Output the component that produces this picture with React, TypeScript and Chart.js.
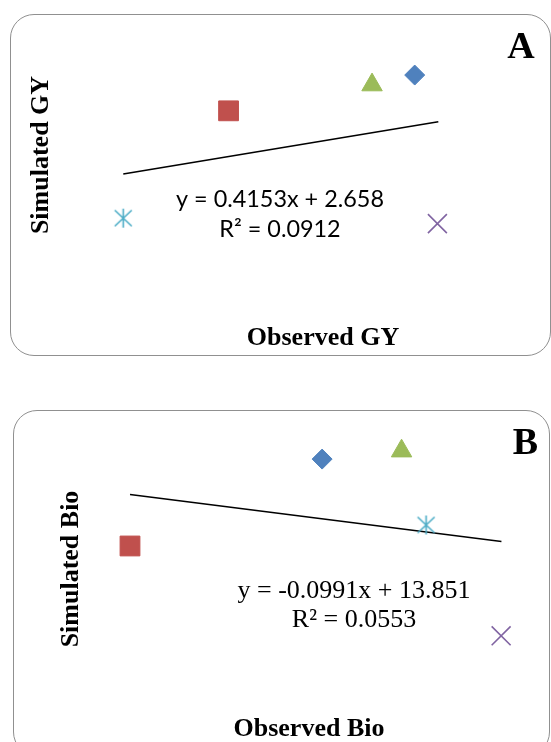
import React, { useEffect, useRef } from 'react';
import { Chart, registerables } from 'chart.js';

Chart.register(...registerables);

// ---------- data ----------
const seriesLabels = ['Series1', 'Series2', 'Series3', 'Series4', 'Series5'];
const seriesColors = ['#4F81BD', '#C0504D', '#9BBB59', '#8064A2', '#4BACC6'];

// Panel A: grain yield
const gyObserved = [5.51, 3.46, 5.04, 5.76, 2.3];
const gySimulated = [6.34, 5.36, 6.07, 2.27, 2.42];
const gyTrendObserved = [2.3, 5.77];
const gyTrendSimulated = [3.63, 5.06];
const gyEquation = ['y = 0.4153x + 2.658', 'R² = 0.0912'];
const gyXRange = [2, 7];
const gyYRange = [1, 7.3];

// Panel B: biomass
const bioObserved = [12.95, 6.37, 15.67, 19.08, 16.51];
const bioSimulated = [14.21, 11.85, 14.43, 9.41, 12.42];
const bioTrendObserved = [6.37, 19.09];
const bioTrendSimulated = [13.25, 11.97];
const bioEquation = ['y = -0.0991x + 13.851', 'R² = 0.0553'];
const bioXRange = [5, 20];
const bioYRange = [7.45, 15];

// ---------- styles ----------
const markerShapes = ['rectRot', 'rect', 'triangle', 'crossRot', 'asterisk'];
const markerRadius = [10, 14, 11.8, 13.4, 10];
const SERIF = "'Liberation Serif', 'Times New Roman', serif";
const SANS = "Lato, 'Liberation Sans', sans-serif";

function makeAsterisk(color: string) {
  const c = document.createElement('canvas');
  c.width = 21;
  c.height = 21;
  const g = c.getContext('2d')!;
  g.strokeStyle = color;
  g.lineWidth = 1.6;
  g.beginPath();
  g.moveTo(10.5, 1);
  g.lineTo(10.5, 20);
  g.moveTo(2, 2.5);
  g.lineTo(19, 18.5);
  g.moveTo(19, 2.5);
  g.lineTo(2, 18.5);
  g.stroke();
  return c;
}

const panelText = {
  id: 'panelText',
  afterDraw(chart: any, _args: any, opts: any) {
    const ctx = chart.ctx;
    ctx.save();
    for (const item of opts.items || []) {
      ctx.font = item.font;
      ctx.fillStyle = item.color || '#000';
      ctx.textAlign = item.align || 'center';
      ctx.textBaseline = 'alphabetic';
      ctx.fillText(item.text, item.x, item.y);
    }
    ctx.restore();
  },
};

function buildDatasets(obs: number[], sim: number[], tx: number[], ty: number[]) {
  const ds: any[] = obs.map((x, i) => ({
    label: seriesLabels[i],
    data: [{ x, y: sim[i] }],
    pointStyle: markerShapes[i] === 'asterisk' ? makeAsterisk(seriesColors[i]) : markerShapes[i],
    pointRadius: markerRadius[i],
    pointHoverRadius: markerRadius[i],
    backgroundColor: seriesColors[i],
    borderColor: seriesColors[i],
    pointBackgroundColor: seriesColors[i],
    pointBorderColor: seriesColors[i],
    pointBorderWidth: i >= 3 ? 1.6 : 1,
    showLine: false,
    clip: false,
  }));
  ds.push({
    label: 'Linear',
    data: tx.map((x, i) => ({ x, y: ty[i] })),
    showLine: true,
    borderColor: '#000',
    borderWidth: 1.6,
    pointRadius: 0,
    fill: false,
    clip: false,
  });
  return ds;
}

type PanelProps = {
  box: { left: number; top: number; width: number; height: number };
  obs: number[];
  sim: number[];
  tx: number[];
  ty: number[];
  xRange: number[];
  yRange: number[];
  xTitle: string;
  yTitle: string;
  layoutPadding: any;
  xTitlePadding: any;
  yTitlePadding: any;
  texts: any[];
};

function Panel(p: PanelProps) {
  const ref = useRef<HTMLCanvasElement | null>(null);
  const cw = p.box.width - 2;
  const ch = p.box.height - 2;
  useEffect(() => {
    if (!ref.current) return;
    const titleFont = { family: SERIF, size: 26, weight: 'bold' as const, lineHeight: 1.2 };
    const chart = new Chart(ref.current, {
      type: 'scatter',
      data: { datasets: buildDatasets(p.obs, p.sim, p.tx, p.ty) },
      options: {
        responsive: false,
        animation: false,
        layout: { padding: p.layoutPadding, autoPadding: false },
        plugins: {
          legend: { display: false },
          tooltip: { enabled: false },
          panelText: { items: p.texts },
        } as any,
        scales: {
          x: {
            type: 'linear',
            min: p.xRange[0],
            max: p.xRange[1],
            grid: { display: false, drawTicks: false },
            border: { display: false },
            ticks: { display: false },
            title: { display: true, text: p.xTitle, color: '#000', font: titleFont, padding: p.xTitlePadding },
          },
          y: {
            type: 'linear',
            min: p.yRange[0],
            max: p.yRange[1],
            grid: { display: false, drawTicks: false },
            border: { display: false },
            ticks: { display: false },
            title: { display: true, text: p.yTitle, color: '#000', font: titleFont, padding: p.yTitlePadding },
          },
        },
      },
      plugins: [panelText],
    });
    return () => chart.destroy();
  }, []);
  return (
    <div
      style={{
        position: 'absolute',
        left: p.box.left,
        top: p.box.top,
        width: p.box.width,
        height: p.box.height,
        boxSizing: 'border-box',
        border: '1px solid #909090',
        borderRadius: 24,
        overflow: 'hidden',
        background: '#fff',
      }}
    >
      <canvas ref={ref} width={cw} height={ch} style={{ display: 'block', width: cw, height: ch }} />
    </div>
  );
}

export default function App() {
  return (
    <div
      style={{
        position: 'absolute',
        left: 0,
        top: 0,
        width: 551,
        height: 742,
        overflow: 'hidden',
        background: '#fff',
      }}
    >
      <Panel
        box={{ left: 10, top: 14, width: 541, height: 342 }}
        obs={gyObserved}
        sim={gySimulated}
        tx={gyTrendObserved}
        ty={gyTrendSimulated}
        xRange={gyXRange}
        yRange={gyYRange}
        xTitle="Observed GY"
        yTitle="Simulated GY"
        layoutPadding={{ left: 10.8, top: 25, right: 0, bottom: 0 }}
        xTitlePadding={{ top: 52.2, bottom: 1.6 }}
        yTitlePadding={{ top: 4, bottom: 39 }}
        texts={[
          { text: 'A', x: 510, y: 43, font: `bold 38px ${SERIF}` },
          { text: gyEquation[0], x: 269, y: 192, font: `23.4px ${SANS}` },
          { text: gyEquation[1], x: 269, y: 222, font: `23.4px ${SANS}` },
        ]}
      />
      <Panel
        box={{ left: 13, top: 410, width: 537, height: 346 }}
        obs={bioObserved}
        sim={bioSimulated}
        tx={bioTrendObserved}
        ty={bioTrendSimulated}
        xRange={bioXRange}
        yRange={bioYRange}
        xTitle="Observed Bio"
        yTitle="Simulated Bio"
        layoutPadding={{ left: 37.6, top: 19, right: 21, bottom: 0 }}
        xTitlePadding={{ top: 5.6, bottom: 10.2 }}
        yTitlePadding={{ top: 4, bottom: 3.2 }}
        texts={[
          { text: 'B', x: 511.5, y: 43, font: `bold 38px ${SERIF}` },
          { text: bioEquation[0], x: 340, y: 187, font: `26px ${SERIF}` },
          { text: bioEquation[1], x: 340, y: 216, font: `26px ${SERIF}` },
        ]}
      />
    </div>
  );
}
